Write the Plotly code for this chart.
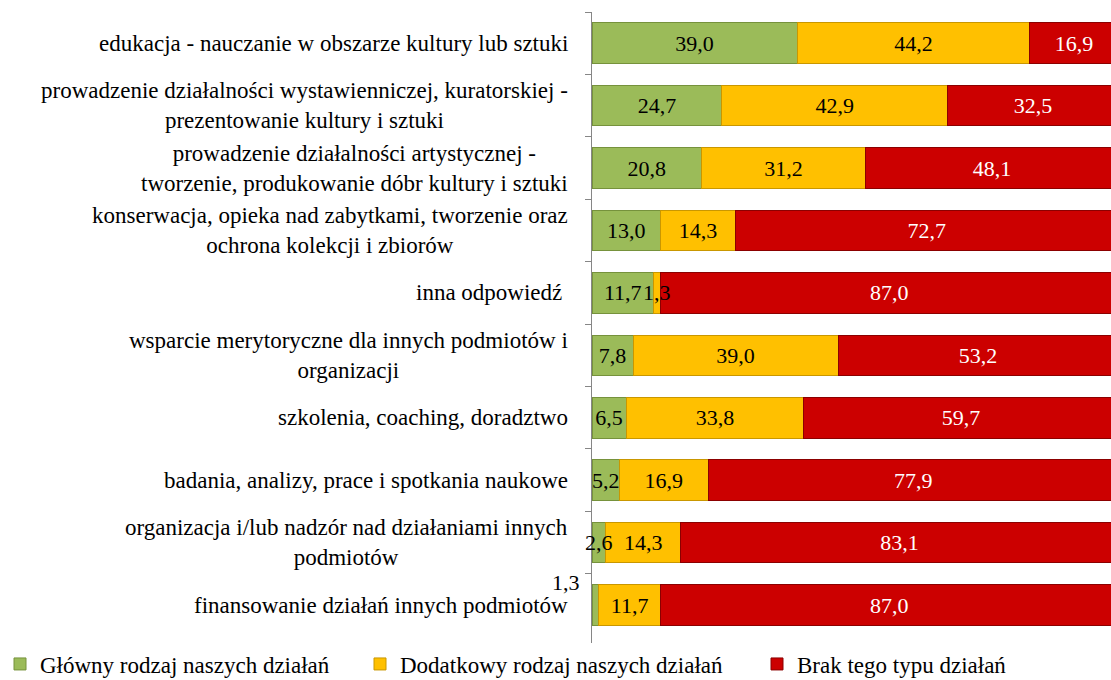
import plotly.graph_objects as go

categories = [
    "edukacja - nauczanie w obszarze kultury lub sztuki",
    "prowadzenie działalności wystawienniczej, kuratorskiej -<br>prezentowanie kultury i sztuki",
    "prowadzenie działalności artystycznej -<br>tworzenie, produkowanie dóbr kultury i sztuki",
    "konserwacja, opieka nad zabytkami, tworzenie oraz<br>ochrona kolekcji i zbiorów",
    "inna odpowiedź ",
    "wsparcie merytoryczne dla innych podmiotów i<br>organizacji",
    "szkolenia, coaching, doradztwo",
    "badania, analizy, prace i spotkania naukowe",
    "organizacja i/lub nadzór nad działaniami innych<br>podmiotów",
    "finansowanie działań innych podmiotów",
]
glowny = [39.0, 24.7, 20.8, 13.0, 11.7, 7.8, 6.5, 5.2, 2.6, 1.3]
dodatkowy = [44.2, 42.9, 31.2, 14.3, 1.3, 39.0, 33.8, 16.9, 14.3, 11.7]
brak = [16.9, 32.5, 48.1, 72.7, 87.0, 53.2, 59.7, 77.9, 83.1, 87.0]
series_names = ["Główny rodzaj naszych działań", "Dodatkowy rodzaj naszych działań", "Brak tego typu działań"]

FONT = "Liberation Serif"
W, H = 1118, 680
ML, MR, MT, MB = 592, 0, 12, 35
PW = W - ML - MR
PH = H - MT - MB
SMALL = 3.0  # values below this get their label as an annotation drawn on top

def fmt(v):
    return f"{v:.1f}".replace(".", ",")

fig = go.Figure()
series = [
    (glowny, "#9BBB59", "#76923C", "black"),
    (dodatkowy, "#FFC000", "#C99700", "black"),
    (brak, "#CC0000", "#8B0000", "white"),
]
legend_ids = ["legend", "legend2", "legend3"]
bases = [0.0] * len(categories)
for idx, (vals, col, lcol, tcol) in enumerate(series):
    texts = [fmt(v) if v >= SMALL else "" for v in vals]
    fig.add_trace(go.Bar(
        y=categories, x=vals, orientation="h", name=series_names[idx],
        marker=dict(color=col, line=dict(color=lcol, width=1)),
        text=texts, textposition="inside", insidetextanchor="middle", textangle=0,
        textfont=dict(family=FONT, size=22, color=tcol),
        legend=legend_ids[idx],
    ))
    for i, v in enumerate(vals):
        if v < SMALL:
            last = (i == len(categories) - 1 and idx == 0)
            fig.add_annotation(
                x=bases[i] + v / 2, y=categories[i], xref="x", yref="y",
                text=fmt(v), showarrow=False, xanchor="center",
                xshift=-29 if last else 0, yshift=23 if last else 0,
                font=dict(family=FONT, size=22, color=tcol))
    bases = [b + v for b, v in zip(bases, vals)]

for c in categories:
    fig.add_annotation(x=(570 - ML) / PW, y=c, xref="paper", yref="y", text=c,
                       showarrow=False, xanchor="right", align="center",
                       font=dict(family=FONT, size=23, color="black"))

leg_common = dict(orientation="h", xanchor="left", yanchor="middle",
                  xref="container", yref="container",
                  y=1 - 664 / H, font=dict(family=FONT, size=23),
                  itemwidth=30, bgcolor="rgba(0,0,0,0)")
leg_px = [-12, 360, 757]

fig.update_layout(
    barmode="stack", bargap=0.35,
    width=W, height=H,
    margin=dict(l=ML, r=MR, t=MT, b=MB),
    plot_bgcolor="white", paper_bgcolor="white",
    font=dict(family=FONT, size=22, color="black"),
    uniformtext=dict(minsize=22, mode="show"),
    showlegend=True,
    legend=dict(x=leg_px[0] / W, **leg_common),
    legend2=dict(x=leg_px[1] / W, **leg_common),
    legend3=dict(x=leg_px[2] / W, **leg_common),
    xaxis=dict(range=[0, 100], showgrid=False, showticklabels=False, zeroline=False,
               showline=False, ticks=""),
    yaxis=dict(autorange="reversed", showticklabels=False, showline=True,
               linecolor="#868686", linewidth=1, ticks="outside", ticklen=6,
               tickcolor="#868686", tickson="boundaries", showgrid=False),
)

fig.write_html("out.html", config={"displayModeBar": False},
               post_script="document.body.style.margin='0';document.body.style.overflow='hidden';")
